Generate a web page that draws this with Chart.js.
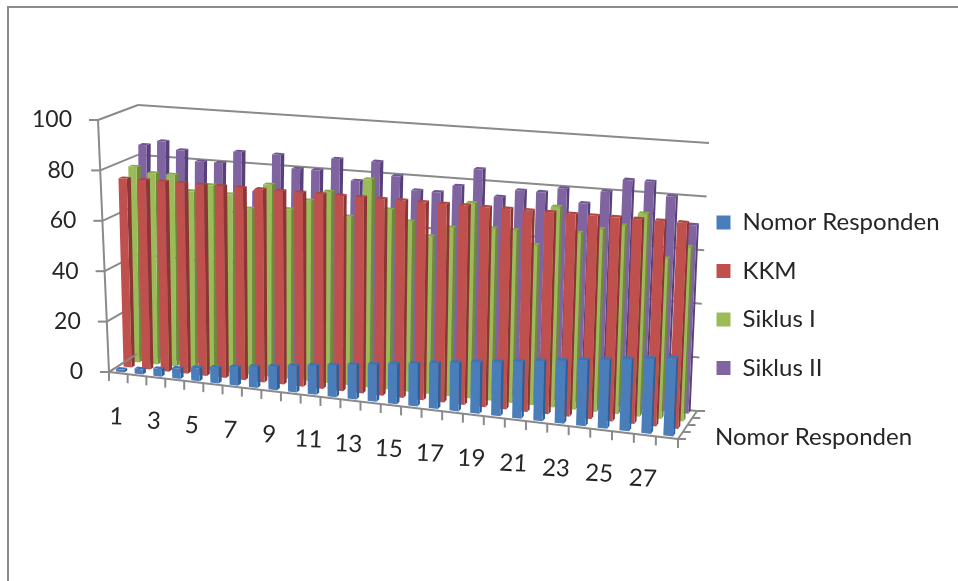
<!DOCTYPE html>
<html>
<head>
<meta charset="utf-8">
<script src="https://cdn.jsdelivr.net/npm/chart.js@4"></script>
<style>
html,body{margin:0;padding:0;background:#fff;overflow:hidden}
#frame{position:absolute;left:7px;top:6px;width:960px;height:590px;border-left:2px solid #8c8c8c;border-top:2px solid #8c8c8c}
canvas{position:absolute;left:0;top:0;filter:blur(0.6px)}
</style>
</head>
<body>
<div id="frame"></div>
<canvas id="c" width="958" height="581"></canvas>
<script>
const categories = [1,2,3,4,5,6,7,8,9,10,11,12,13,14,15,16,17,18,19,20,21,22,23,24,25,26,27,28];
const nomorResponden = [1,2,3,4,5,6,7,8,9,10,11,12,13,14,15,16,17,18,19,20,21,22,23,24,25,26,27,28];
const kkm = [75,75,75,75,75,75,75,75,75,75,75,75,75,75,75,75,75,75,75,75,75,75,75,75,75,75,75,75];
const siklusI = [78,76,76,70,73,70,65,75,66,70,74,65,80,69,65,60,64,74,65,65,60,75,66,68,70,75,59,64];
const siklusII = [85,87,84,80,80,85,70,85,80,80,85,77,85,80,75,75,78,85,75,78,78,80,75,80,85,85,80,70];
const xTickLabels = [1,3,5,7,9,11,13,15,17,19,21,23,25,27];
const yTicks = [0,20,40,60,80,100];
const depthAxisTitle = 'Nomor Responden';

const FONT = '"Lato", "Open Sans", sans-serif';
const TEXT = '#262626';
const LINE = '#8a8a8a';

// Corners of the 3D plot box on screen: Front/Back, Left/Right, Bottom/Top
const box = {
  FLB:[109,372], FLT:[98,120], BLB:[137,354], BLT:[138,105],
  FRB:[678,439], FRT:[690,161], BRB:[697,411], BRT:[709,143]
};
const PERSP = 1.094;
function project(u0,d,v){
  const u=u0/(PERSP-(PERSP-1)*u0);
  const mix=(a,b,t)=>[a[0]+(b[0]-a[0])*t,a[1]+(b[1]-a[1])*t];
  const fb=mix(box.FLB,box.FRB,u), ft=mix(box.FLT,box.FRT,u);
  const bb=mix(box.BLB,box.BRB,u), bt=mix(box.BLT,box.BRT,u);
  return mix(mix(fb,bb,d),mix(ft,bt,d),v);
}
function poly(ctx,pts,fill){
  ctx.beginPath();
  pts.forEach((p,i)=>i?ctx.lineTo(p[0],p[1]):ctx.moveTo(p[0],p[1]));
  ctx.closePath();
  ctx.fillStyle=fill;
  ctx.fill();
}
function seg(ctx,a,b){
  ctx.beginPath();ctx.moveTo(a[0],a[1]);ctx.lineTo(b[0],b[1]);ctx.stroke();
}
const shades = [
  {side:'#2f5f98',top:'#3f74b2'},
  {side:'#8a3634',top:'#ad4644'},
  {side:'#6f8a38',top:'#8aa94c'},
  {side:'#58417a',top:'#715693'}
];
const plugin3d = {
  id:'plot3d',
  afterLayout(chart){
    const l=chart.legend;
    if(!l) return;
    l.left=692; l.right=958; l.top=186; l.bottom=581;
  },
  beforeDatasetsDraw(chart){
    const {ctx,scales:{y}}=chart;
    const h=chart.chartArea;
    ctx.save();
    ctx.strokeStyle=LINE;ctx.lineWidth=2;ctx.lineCap='butt';
    yTicks.forEach(t=>{
      const v=(h.bottom-y.getPixelForValue(t))/h.height;
      const a=project(0,0,v),b=project(0,1,v),c=project(1,1,v);
      seg(ctx,[a[0]-9,a[1]],a);
      seg(ctx,a,b);seg(ctx,b,c);
    });
    seg(ctx,project(0,0,0),project(0,0,1));
    ctx.fillStyle=TEXT;
    ctx.font='23px '+FONT;
    ctx.textAlign='right';ctx.textBaseline='middle';
    y.ticks.forEach(t=>{
      const v=(h.bottom-y.getPixelForValue(t.value))/h.height;
      const a=project(0,0,v);
      ctx.fillText(String(t.value),a[0]-26,a[1]);
    });
    ctx.restore();
  },
  beforeDatasetDraw(chart,args){
    const {ctx}=chart, h=chart.chartArea, meta=args.meta, i=args.index;
    const d=0.12+0.27*i, dd=0.055;
    const col=chart.data.datasets[i].faceColor, s=shades[i];
    meta.data.forEach(el=>{
      const u0=(el.x-el.width/2-h.left)/h.width, u1=(el.x+el.width/2-h.left)/h.width;
      const v0=(h.bottom-el.base)/h.height, v1=(h.bottom-el.y)/h.height;
      const d0=d-dd,d1=d+dd;
      poly(ctx,[project(u1,d0,v0),project(u1,d1,v0),project(u1,d1,v1),project(u1,d0,v1)],s.side);
      poly(ctx,[project(u0,d0,v1),project(u1,d0,v1),project(u1,d1,v1),project(u0,d1,v1)],s.top);
      poly(ctx,[project(u0,d0,v0),project(u1,d0,v0),project(u1,d0,v1),project(u0,d0,v1)],col);
    });
    return false;
  },
  afterDatasetsDraw(chart){
    const {ctx,scales:{x}}=chart, h=chart.chartArea;
    ctx.save();
    ctx.strokeStyle=LINE;ctx.lineWidth=2;
    seg(ctx,project(0,0,0),project(1,0,0));
    seg(ctx,project(0,0,0),project(0,1,0));
    seg(ctx,project(1,0,0),project(1,1,0));
    for(let k=0;k<=categories.length;k++){
      const p=project(k/categories.length,0,0);
      seg(ctx,p,[p[0],p[1]+9]);
    }
    for(let k=0;k<=4;k++){
      const p=project(1,k/4,0);
      seg(ctx,p,[p[0]+8,p[1]]);
    }
    ctx.fillStyle=TEXT;
    ctx.font='24px '+FONT;
    ctx.textAlign='center';ctx.textBaseline='middle';
    xTickLabels.forEach(t=>{
      const px=x.getPixelForValue(categories.indexOf(t));
      const p=project((px-h.left)/h.width,0,0);
      ctx.save();
      ctx.translate(p[0]-2,p[1]+43.5);
      ctx.rotate(0.05);
      ctx.fillText(String(t),0,0);
      ctx.restore();
    });
    ctx.textAlign='left';
    ctx.fillText(depthAxisTitle,715,437);
    ctx.restore();
  }
};
const mk=(label,data,color)=>({label,data,faceColor:color,backgroundColor:color,borderWidth:0,grouped:false,barPercentage:0.44,categoryPercentage:1});
new Chart(document.getElementById('c'),{
  type:'bar',
  data:{labels:categories,datasets:[
    mk('Nomor Responden',nomorResponden,'#4a7ebb'),
    mk('KKM',kkm,'#c0504d'),
    mk('Siklus I',siklusI,'#9bbb59'),
    mk('Siklus II',siklusII,'#8064a2')
  ]},
  options:{
    responsive:false,animation:false,devicePixelRatio:1,
    layout:{padding:{left:84,top:120,bottom:209,right:0}},
    scales:{
      x:{display:false,grid:{display:false}},
      y:{min:0,max:100,
         grid:{display:false},border:{display:false},
         afterBuildTicks(s){s.ticks=yTicks.map(v=>({value:v}));},
         ticks:{display:false}}
    },
    plugins:{
      tooltip:{enabled:false},
      legend:{display:true,position:'right',align:'start',
        labels:{boxWidth:14,boxHeight:14,padding:24.5,color:TEXT,font:{family:FONT,size:24}}}
    }
  },
  plugins:[plugin3d]
});
</script>
</body>
</html>
